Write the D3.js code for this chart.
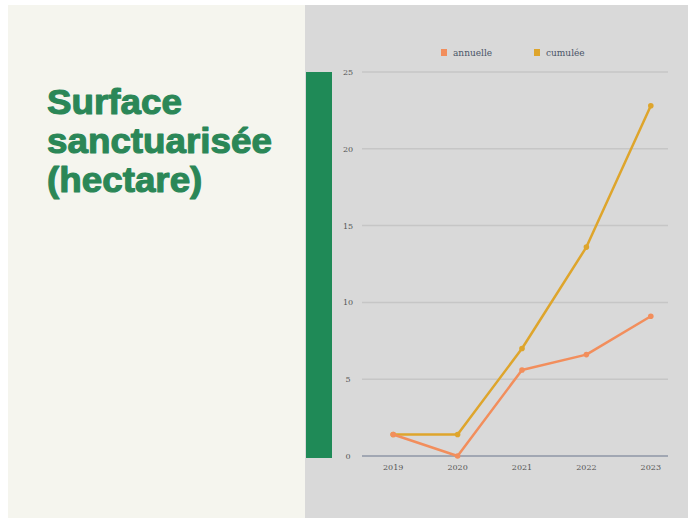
<!DOCTYPE html>
<html><head><meta charset="utf-8">
<script src="https://cdn.jsdelivr.net/npm/d3@7"></script>
<style>html,body{margin:0;padding:0;background:#fff;}svg{display:block;}</style>
</head><body>
<svg id="c" width="691" height="518"></svg>
<script>
const years = ["2019","2020","2021","2022","2023"];
const annuelle = [1.4, 0, 5.6, 6.6, 9.1];
const cumulee = [1.4, 1.4, 7.0, 13.6, 22.8];
const yTicks = [0, 5, 10, 15, 20, 25];
const seriesNames = ["annuelle", "cumulée"];
const titleLines = ["Surface", "sanctuarisée", "(hectare)"];

const svg = d3.select("#c");
// panels
svg.append("rect").attr("x",8).attr("y",5).attr("width",297).attr("height",513).attr("fill","#f5f5ee");
svg.append("rect").attr("x",305).attr("y",5).attr("width",383).attr("height",513).attr("fill","#d9d9d9");
// green bar
svg.append("rect").attr("x",306).attr("y",72).attr("width",26).attr("height",386).attr("fill","#1f8a57");

// title
const tg = svg.append("g");
const tt = tg.selectAll("text").data(titleLines).join("text")
  .attr("font-family","'Liberation Sans', Arial, sans-serif")
  .attr("font-weight","bold").attr("fill","#2b8757").attr("stroke","#2b8757").attr("stroke-width",1.1)
  .attr("stroke-linejoin","round").attr("font-size",34.5)
  .attr("x",0).attr("y",(d,i)=>114+i*39).text(d=>d);
const w = tt.nodes()[1].getComputedTextLength();
const sx = 225 / w;
tg.attr("transform",`translate(47,0) scale(${sx},1)`);

const x = d3.scalePoint().domain(years).range([361,683]).padding(0.5);
const y = d3.scaleLinear().domain([0,25]).range([456,72]);

// grid
svg.append("g").selectAll("line").data(yTicks.filter(d=>d>0)).join("line")
  .attr("x1",362).attr("x2",668).attr("y1",d=>y(d)).attr("y2",d=>y(d))
  .attr("stroke","#c6c6c6").attr("stroke-width",1.5);
svg.append("line").attr("x1",362).attr("x2",668).attr("y1",y(0)).attr("y2",y(0))
  .attr("stroke","#8e96a6").attr("stroke-width",1.5);

// y labels
svg.append("g").selectAll("text").data(yTicks).join("text")
  .attr("x",348).attr("y",d=>y(d)+3).attr("text-anchor","middle")
  .attr("font-family","'DejaVu Serif', serif").attr("font-size",8).attr("fill","#555")
  .text(d=>d);
// x labels
svg.append("g").selectAll("text").data(years).join("text")
  .attr("x",d=>x(d)).attr("y",470).attr("text-anchor","middle")
  .attr("font-family","'DejaVu Serif', serif").attr("font-size",8).attr("fill","#555")
  .text(d=>d);

const colors = ["#f28e5c","#dea52c"];
const line = d3.line().x((d,i)=>x(years[i])).y(d=>y(d));
[cumulee, annuelle].forEach((s,k)=>{
  const c = k===0 ? colors[1] : colors[0];
  svg.append("path").datum(s).attr("d",line).attr("fill","none").attr("stroke",c).attr("stroke-width",2.5).attr("stroke-linejoin","round");
  svg.append("g").selectAll("circle").data(s).join("circle")
    .attr("cx",(d,i)=>x(years[i])).attr("cy",d=>y(d)).attr("r",2.8).attr("fill",c);
});

// legend
const lg = svg.append("g");
const lx = [441, 534];
seriesNames.forEach((n,i)=>{
  lg.append("rect").attr("x",lx[i]).attr("y",49).attr("width",6).attr("height",7).attr("fill",colors[i]);
  lg.append("text").attr("x",lx[i]+12).attr("y",56).attr("font-family","'DejaVu Serif', serif")
    .attr("font-size",9).attr("fill","#4a5568").text(n);
});
</script>
</body></html>
